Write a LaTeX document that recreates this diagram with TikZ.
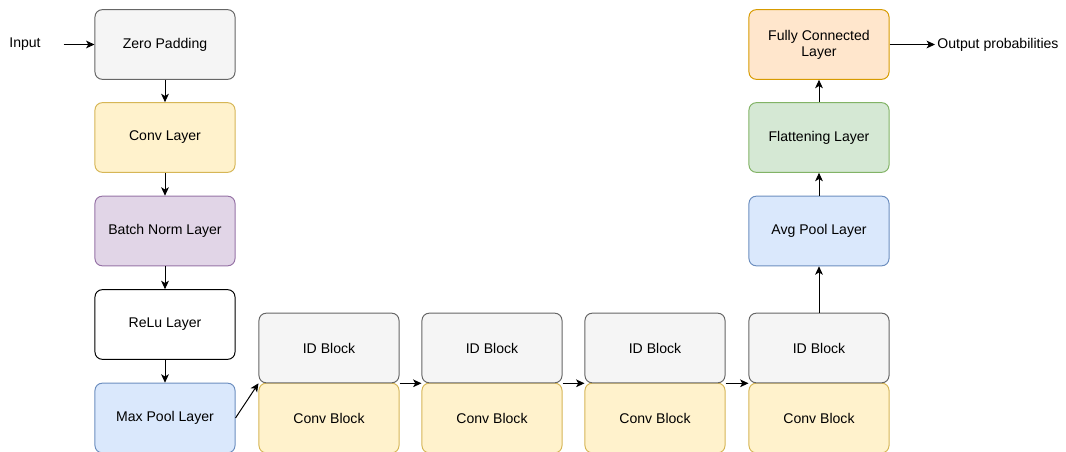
\documentclass[tikz,border=0pt]{standalone}
\usepackage{fontspec}
\setmainfont{Liberation Sans}
\usepackage{tikz}
\usetikzlibrary{arrows.meta, positioning}

\definecolor{grayfill}{HTML}{F5F5F5}
\definecolor{grayline}{HTML}{666666}
\definecolor{yellowfill}{HTML}{FFF2CC}
\definecolor{yellowline}{HTML}{D6B656}
\definecolor{purplefill}{HTML}{E1D5E7}
\definecolor{purpleline}{HTML}{9673A6}
\definecolor{bluefill}{HTML}{DAE8FC}
\definecolor{blueline}{HTML}{6C8EBF}
\definecolor{greenfill}{HTML}{D5E8D4}
\definecolor{greenline}{HTML}{82B366}
\definecolor{orangefill}{HTML}{FFE6CC}
\definecolor{orangeline}{HTML}{D79B00}

\begin{document}
\begin{tikzpicture}[x=0.025cm, y=-0.025cm,
    font=\fontsize{10}{11.5}\selectfont,
    layer/.style={draw, rounded corners=0.18cm, minimum width=3.5cm, minimum height=1.74cm,
      align=center, line width=0.7pt},
    graybox/.style={layer, draw=grayline, fill=grayfill},
    yellowbox/.style={layer, draw=yellowline, fill=yellowfill},
    purplebox/.style={layer, draw=purpleline, fill=purplefill},
    bluebox/.style={layer, draw=blueline, fill=bluefill},
    greenbox/.style={layer, draw=greenline, fill=greenfill},
    orangebox/.style={layer, draw=orangeline, fill=orangefill},
    whitebox/.style={layer, draw=black, fill=white},
    flow/.style={-{Stealth[length=6pt, width=5.5pt, inset=1.6pt]}, line width=0.7pt}]

  \useasboundingbox (0,0) rectangle (1066,452);

  % stem on the left
  \node (input) at (25,44.5) {Input};
  \node[graybox] (zeropad) at (165,44.5) {Zero Padding};
  \node[yellowbox] (conv) at (165,137.5) {Conv Layer};
  \node[purplebox] (bnorm) at (165,231) {Batch Norm Layer};
  \node[whitebox] (relu) at (165,324.5) {ReLu Layer};
  \node[bluebox] (maxpool) at (165,418) {Max Pool Layer};

  % residual stages: ID block sitting on a conv block
  \foreach \i/\x in {1/329, 2/492, 3/655, 4/819} {
    \node[yellowbox] (cb\i) at (\x,418) {Conv Block};
    \node[graybox] (id\i) at (\x,348) {ID Block};
  }

  % head on the right
  \node[bluebox] (avgpool) at (819,231) {Avg Pool Layer};
  \node[greenbox] (flat) at (819,137.5) {Flattening Layer};
  \node[orangebox] (fc) at (819,44.5) {Fully Connected\\Layer};
  \node[anchor=west, inner xsep=1.5pt] (output) at (935,44.5) {Output probabilities};

  % connectors
  \draw[flow] ([xshift=0.45cm]input.east) -- (zeropad);
  \draw[flow] (zeropad) -- (conv);
  \draw[flow] (conv) -- (bnorm);
  \draw[flow] (bnorm) -- (relu);
  \draw[flow] (relu) -- (maxpool);
  \draw[flow] (maxpool.east) -- (id1.south west);
  \draw[flow] (id1.south east) -- (id2.south west);
  \draw[flow] (id2.south east) -- (id3.south west);
  \draw[flow] (id3.south east) -- (id4.south west);
  \draw[flow] (id4) -- (avgpool);
  \draw[flow] (avgpool) -- (flat);
  \draw[flow] (flat) -- (fc);
  \draw[flow] (fc) -- (output);
\end{tikzpicture}
\end{document}
